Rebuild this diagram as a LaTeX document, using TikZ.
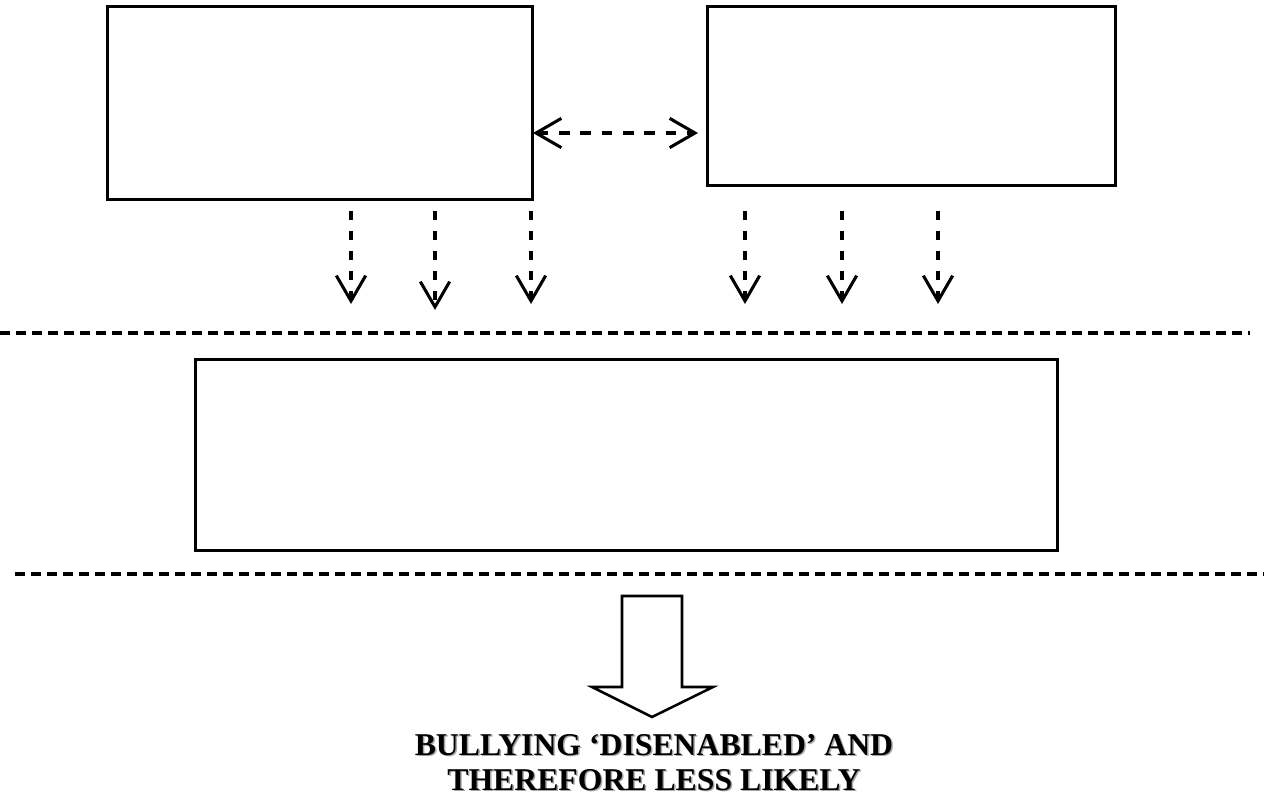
\documentclass[tikz,border=0pt]{standalone}
\usepackage{fontspec}
\setmainfont{Liberation Serif}
\usetikzlibrary{arrows.meta}
\begin{document}
\begin{tikzpicture}[x=0.75pt,y=-0.75pt,
  box/.style={draw,line width=1.9pt,inner sep=0pt,anchor=north west},
  sep/.style={line width=2.6pt,dash pattern=on 7.5pt off 4.5pt},
  dasharrow/.style={line width=2.3pt,dash pattern=on 7pt off 8pt,
    arrows={-Straight Barb[length=19pt,width=22pt,line width=2.3pt]}},
  dashboth/.style={line width=2.3pt,dash pattern=on 8pt off 8pt,
    arrows={Straight Barb[length=19pt,width=22pt,line width=2.3pt]-Straight Barb[length=19pt,width=22pt,line width=2.3pt]}},
  label/.style={font=\bfseries\fontsize{23.8}{26.25}\selectfont,align=center}
]
\useasboundingbox (0,0) rectangle (1264,800);
% boxes
\node[box,minimum width=318.75pt,minimum height=144.75pt] (A) at (106,5) {};
\node[box,minimum width=306pt,minimum height=134.25pt] (B) at (706,5) {};
\node[box,minimum width=646.5pt,minimum height=143.25pt] (C) at (194,358) {};
% double arrow
\coordinate (dl) at (533,133);
\coordinate (dr) at (698,133);
\draw[dashboth] (dl) -- (dr);
% down arrows
\foreach \n/\x/\t in {a1/351/304,a2/435/310,a3/531/304,b1/745/304,b2/842/304,b3/938/304}{
  \coordinate (\n s) at (\x,211);
  \coordinate (\n e) at (\x,\t);
  \draw[dasharrow] (\n s) -- (\n e);
}
% separators
\coordinate (s1a) at (0,333);
\coordinate (s1b) at (1250,333);
\coordinate (s2a) at (15,574);
\coordinate (s2b) at (1264,574);
\draw[sep] (s1a) -- (s1b);
\draw[sep] (s2a) -- (s2b);
% block arrow
\draw[line width=1.9pt,line join=miter] (622,596) -- (682,596) -- (682,687) -- (713,687) -- (652,717) -- (592,687) -- (622,687) -- cycle;
% label with shadow
\node[label,text=black!35] at (655.5,764) {BULLYING ‘DISENABLED’ AND\\THEREFORE LESS LIKELY};
\node[label] (T) at (654,762.5) {BULLYING ‘DISENABLED’ AND\\THEREFORE LESS LIKELY};
\end{tikzpicture}
\end{document}
